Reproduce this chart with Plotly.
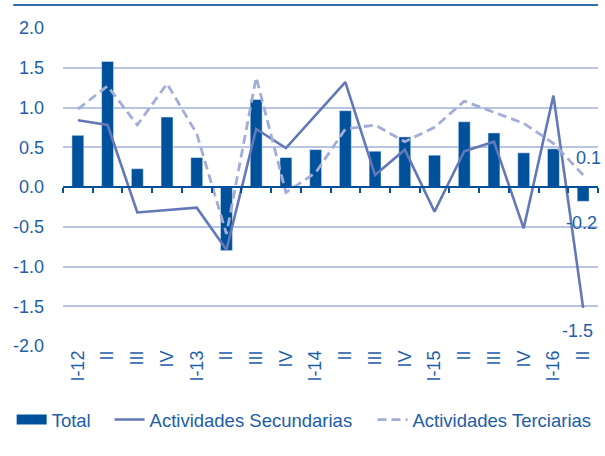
import plotly.graph_objects as go

categories = ["I-12", "II", "III", "IV", "I-13", "II ", "III ", "IV ", "I-14", "II  ", "III  ", "IV  ",
              "I-15", "II   ", "III   ", "IV   ", "I-16", "II    "]
tick_labels = ["I-12", "II", "III", "IV", "I-13", "II", "III", "IV", "I-14", "II", "III", "IV",
               "I-15", "II", "III", "IV", "I-16", "II"]
total = [0.65, 1.58, 0.23, 0.88, 0.37, -0.80, 1.10, 0.37, 0.47, 0.96, 0.45, 0.63,
         0.40, 0.82, 0.68, 0.43, 0.48, -0.18]
secundarias = [0.84, 0.78, -0.32, -0.29, -0.26, -0.79, 0.73, 0.49, 0.90, 1.32, 0.15, 0.47,
               -0.31, 0.45, 0.57, -0.52, 1.15, -1.52]
terciarias = [0.98, 1.27, 0.78, 1.30, 0.67, -0.59, 1.38, -0.07, 0.18, 0.73, 0.78, 0.57,
              0.75, 1.08, 0.94, 0.80, 0.55, 0.15]
end_labels = [("0.1", terciarias[-1]), ("-0.2", total[-1]), ("-1.5", secundarias[-1])]
y_ticks = [2.0, 1.5, 1.0, 0.5, 0.0, -0.5, -1.0, -1.5, -2.0]

TXT = "#1d5ea8"
BAR = "#00519c"
SEC = "#6378b8"
TER = "#a2aed8"
GRID = "#b9c3e2"
FONT = "Liberation Sans"

fig = go.Figure()
fig.add_trace(go.Bar(x=categories, y=total, name="Total", marker_color=BAR, width=0.4,
                     legendgroup="total", showlegend=False))
# legend entry for the bars (wide swatch like the reference)
fig.add_trace(go.Scatter(x=[None], y=[None], name="Total", mode="lines", legendgroup="total",
                         line=dict(color=BAR, width=12), legend="legend", hoverinfo="skip"))
fig.add_trace(go.Scatter(x=categories, y=secundarias, name="Actividades Secundarias",
                         mode="lines", line=dict(color=SEC, width=2.6), legend="legend2"))
fig.add_trace(go.Scatter(x=categories, y=terciarias, name="Actividades Terciarias",
                         mode="lines", line=dict(color=TER, width=2.8, dash="9px,5px"),
                         legend="legend3"))
# invisible trace to carry the zero-level axis with boundary ticks
fig.add_trace(go.Scatter(x=categories, y=[0] * len(categories), xaxis="x2", mode="lines",
                         line=dict(width=0), showlegend=False, hoverinfo="skip"))

# end-value labels
offsets = {"0.1": (5, 17), "-0.2": (-2, -22), "-1.5": (-6, -23)}
for text, val in end_labels:
    dx, dy = offsets[text]
    fig.add_annotation(x=categories[-1], y=val, text=text, showarrow=False,
                       xshift=dx, yshift=dy, font=dict(size=18, color=TXT, family=FONT))

# top rule
fig.add_shape(type="line", xref="paper", yref="paper", x0=-0.093, x1=1.0, y0=1.072, y1=1.072,
              line=dict(color="#2f6db0", width=2))

leg_common = dict(orientation="h", yanchor="top", xanchor="left", y=-0.173,
                  font=dict(size=18.5, color=TXT, family=FONT), bgcolor="rgba(0,0,0,0)")

fig.update_layout(
    width=605, height=456,
    margin=dict(l=63, r=7, t=28, b=110, autoexpand=False),
    paper_bgcolor="white", plot_bgcolor="white",
    font=dict(family=FONT, color=TXT, size=18),
    bargap=0.6,
    xaxis=dict(type="category", tickmode="array", tickvals=categories, ticktext=tick_labels,
               tickangle=-90, showline=False, ticks="", showgrid=False, automargin=False,
               tickfont=dict(size=18, color=TXT), range=[-0.5, 17.5]),
    xaxis2=dict(type="category", overlaying="x", matches="x", anchor="free", position=0.5,
                side="bottom", showline=True, linecolor=BAR, linewidth=2, ticks="outside",
                ticklen=5, tickwidth=2, tickcolor=BAR, tickson="boundaries", automargin=False,
                showticklabels=False, showgrid=False),
    yaxis=dict(range=[-2, 2], tickvals=y_ticks, ticktext=[f"{v:.1f}" for v in y_ticks],
               showgrid=True, gridcolor=GRID, gridwidth=1.5, zeroline=False, automargin=False,
               tickfont=dict(size=18, color=TXT), ticks="", ticklabelstandoff=18),
    legend=dict(x=-0.096, **leg_common),
    legend2=dict(x=0.087, **leg_common),
    legend3=dict(x=0.5785, **leg_common),
    showlegend=True,
)

fig.write_html("out.html", config={"displayModeBar": False},
               post_script="document.body.style.margin='0';document.body.style.overflow='hidden';")
